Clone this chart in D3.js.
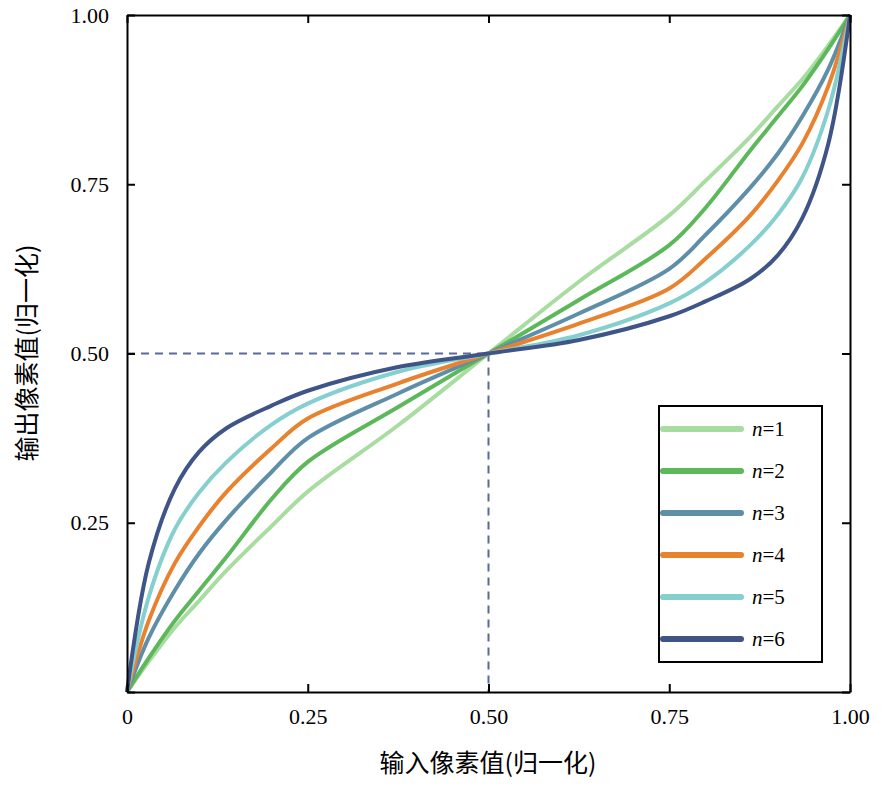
<!DOCTYPE html>
<html><head><meta charset="utf-8">
<script src="https://cdn.jsdelivr.net/npm/d3@7"></script>
<style>body{margin:0;background:#fff}</style></head>
<body><svg id="c" width="884" height="790"></svg>
<script>
const xs = [0, 0.03, 0.066, 0.1, 0.138, 0.2, 0.25, 0.375, 0.5, 0.625, 0.75, 0.8, 0.862, 0.9, 0.934, 0.97, 1];
const n1 = [0, 0.045, 0.095, 0.135, 0.180, 0.245, 0.296, 0.394, 0.5, 0.606, 0.704, 0.755, 0.820, 0.865, 0.905, 0.955, 1];
const n2 = [0, 0.050, 0.105, 0.150, 0.200, 0.285, 0.340, 0.421, 0.5, 0.579, 0.660, 0.715, 0.800, 0.850, 0.895, 0.950, 1];
const n3 = [0, 0.080, 0.150, 0.205, 0.255, 0.325, 0.375, 0.441, 0.5, 0.559, 0.625, 0.675, 0.745, 0.795, 0.850, 0.920, 1];
const n4 = [0, 0.105, 0.190, 0.245, 0.296, 0.360, 0.404, 0.456, 0.5, 0.544, 0.596, 0.640, 0.704, 0.755, 0.810, 0.895, 1];
const n5 = [0, 0.140, 0.240, 0.295, 0.340, 0.395, 0.426, 0.473, 0.5, 0.527, 0.574, 0.605, 0.660, 0.705, 0.760, 0.860, 1];
const n6 = [0, 0.190, 0.300, 0.355, 0.390, 0.423, 0.445, 0.480, 0.5, 0.520, 0.555, 0.577, 0.610, 0.645, 0.700, 0.810, 1];
const seriesNames = ["n=1","n=2","n=3","n=4","n=5","n=6"];
const seriesVals = [n1,n2,n3,n4,n5,n6];
const colors = ["#a8dca0","#5cb85a","#5f8fa8","#e8822e","#86cfcf","#3f5588"];
const tickVals = [0,0.25,0.5,0.75,1];
const xTickLabels = ["0","0.25","0.50","0.75","1.00"];
const yTickLabels = ["","0.25","0.50","0.75","1.00"];

const svg = d3.select("#c");
const L=127,R=850,T=15,B=692;
const x = d3.scaleLinear().domain([0,1]).range([L,R]);
const y = d3.scaleLinear().domain([0,1]).range([B,T]);
const serif = "'Liberation Serif','Times New Roman',serif";

svg.append("line").attr("x1",x(0)).attr("x2",x(0.5)).attr("y1",y(0.5)).attr("y2",y(0.5))
  .attr("stroke","#5a6a9a").attr("stroke-width",2).attr("stroke-dasharray","8,6");
svg.append("line").attr("x1",x(0.5)).attr("x2",x(0.5)).attr("y1",y(0.5)).attr("y2",y(0))
  .attr("stroke","#5a6a9a").attr("stroke-width",2).attr("stroke-dasharray","8,6");

const line = d3.line().x((d,i)=>x(xs[i])).y(d=>y(d)).curve(d3.curveCatmullRom.alpha(0.5));
seriesVals.forEach((v,k)=>{
  svg.append("path").attr("d",line(v)).attr("fill","none").attr("stroke",colors[k]).attr("stroke-width",4);
});

const fmt = arr => (d,i)=>arr[i];
const ax = (g,axis)=>{g.call(axis); g.select(".domain").attr("stroke","#000").attr("stroke-width",2);
  g.selectAll(".tick line").attr("stroke","#000").attr("stroke-width",2);
  g.selectAll("text").attr("font-family",serif).attr("font-size",22).attr("fill","#000");};
svg.append("g").attr("transform",`translate(0,${B})`).call(g=>ax(g,d3.axisBottom(x).tickValues(tickVals).tickFormat(fmt(xTickLabels)).tickSizeInner(-8).tickSizeOuter(0).tickPadding(16)));
svg.append("g").attr("transform",`translate(${L},0)`).call(g=>ax(g,d3.axisLeft(y).tickValues(tickVals).tickFormat(fmt(yTickLabels)).tickSizeInner(-8).tickSizeOuter(0).tickPadding(18)));
svg.append("g").attr("transform",`translate(0,${T})`).call(g=>{ax(g,d3.axisTop(x).tickValues(tickVals).tickSizeInner(-8).tickSizeOuter(0)); g.selectAll("text").remove();});
svg.append("g").attr("transform",`translate(${R},0)`).call(g=>{ax(g,d3.axisRight(y).tickValues(tickVals).tickSizeInner(-8).tickSizeOuter(0)); g.selectAll("text").remove();});

const cjk = "'Noto Sans CJK SC','Liberation Serif',serif";
svg.append("text").attr("x",488).attr("y",772).attr("text-anchor","middle").attr("font-family",cjk).attr("font-size",25).text("输入像素值(归一化)");
svg.append("text").attr("transform","translate(36,353) rotate(-90)").attr("text-anchor","middle").attr("font-family",cjk).attr("font-size",25).text("输出像素值(归一化)");

svg.append("rect").attr("x",659).attr("y",406).attr("width",163).attr("height",256).attr("fill","#fff").attr("stroke","#000").attr("stroke-width",2);
seriesNames.forEach((s,k)=>{
  const yy = 429 + k*42;
  svg.append("line").attr("x1",663).attr("x2",741).attr("y1",yy).attr("y2",yy).attr("stroke",colors[k]).attr("stroke-width",6).attr("stroke-linecap","round");
  const t = svg.append("text").attr("x",752).attr("y",yy+7).attr("font-family",serif).attr("font-size",21);
  t.append("tspan").attr("font-style","italic").text("n");
  t.append("tspan").text(s.slice(1));
});
</script></body></html>
